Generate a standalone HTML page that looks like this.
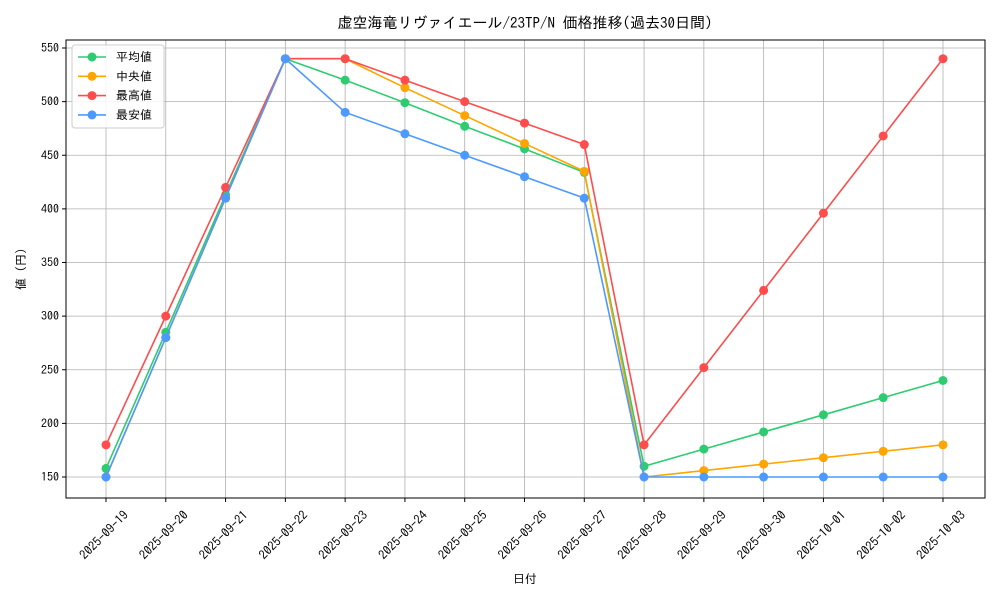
<!DOCTYPE html>
<html><head><meta charset="utf-8"><style>
body{margin:0;background:#fff;}
svg text{font-family:"IPAGothic","Liberation Sans","Noto Sans CJK JP",sans-serif;fill:#000;}
</style></head><body>
<svg id="chart" width="1000" height="600">
<text x="525" y="28" font-size="15" text-anchor="middle">虚空海竜リヴァイエール/23TP/N 価格推移(過去30日間)</text>
<g id="grid"></g><g id="axes"></g><g id="series"></g><g id="legend"></g>
<text x="525" y="583" font-size="12" text-anchor="middle">日付</text>
<text x="25" y="269" font-size="12" text-anchor="middle" transform="rotate(-90 25 269)">値 (円)</text>
</svg>
<script>
const dates=["2025-09-19","2025-09-20","2025-09-21","2025-09-22","2025-09-23","2025-09-24","2025-09-25","2025-09-26","2025-09-27","2025-09-28","2025-09-29","2025-09-30","2025-10-01","2025-10-02","2025-10-03"];
const avgVals=[158,285,413,540,520,499,477,456,434,160,176,192,208,224,240];
const medVals=[150,280,410,540,540,513,487,461,435,150,156,162,168,174,180];
const maxVals=[180,300,420,540,540,520,500,480,460,180,252,324,396,468,540];
const minVals=[150,280,410,540,490,470,450,430,410,150,150,150,150,150,150];
const yTicks=[150,200,250,300,350,400,450,500,550];
const seriesNames=["平均値","中央値","最高値","最安値"];
const NS="http://www.w3.org/2000/svg";
const L=66,R=985,T=40,B=498;
const xS=i=>106+i*(943-106)/(dates.length-1);
const yS=v=>477-(v-150)*(477-48)/400;
function mk(tag,attrs,parent){const e=document.createElementNS(NS,tag);for(const k in attrs)e.setAttribute(k,attrs[k]);parent.appendChild(e);return e;}
const grid=document.getElementById('grid'),axes=document.getElementById('axes'),ser=document.getElementById('series'),leg=document.getElementById('legend');
dates.forEach((d,i)=>{
 const x=xS(i);
 const g=mk('line',{x1:x,x2:x,y1:T,y2:B,stroke:'#b0b0b0','stroke-width':0.8},grid);
 
 
 mk('line',{x1:x,x2:x,y1:B,y2:B+4,stroke:'#000'},axes);
 const cx=x+1,cy=B+40;
 const t=mk('text',{x:cx,y:cy,'font-size':12.5,'text-anchor':'middle',transform:`rotate(-45 ${cx} ${cy})`},axes);
 t.textContent=d;
 
 
});
yTicks.forEach(v=>{
 const y=yS(v);
 const g=mk('line',{x1:L,x2:R,y1:y,y2:y,stroke:'#b0b0b0','stroke-width':0.8},grid);
 
 
 mk('line',{x1:L-4,x2:L,y1:y,y2:y,stroke:'#000'},axes);
 const t=mk('text',{x:L-7,y:y+4,'font-size':12,'text-anchor':'end'},axes);
 t.textContent=v;
 
 
});
const frame=mk('rect',{x:L,y:T,width:R-L,height:B-T,fill:'none',stroke:'#000','stroke-width':1},axes);


const all=[avgVals,medVals,maxVals,minVals];
const colors=["#2ecc71","#ffa500","#ff4c4c","#4c9aff"];
const ids=["avg","median","max","min"];
all.forEach((vals,s)=>{
 const g=mk('g',{},ser);
 
 
 const p=mk('polyline',{points:vals.map((v,i)=>xS(i)+','+yS(v)).join(' '),fill:'none',stroke:colors[s],'stroke-width':1.6},g);
 
 
 vals.forEach((v,i)=>{
  const c=mk('circle',{cx:xS(i),cy:yS(v),r:4.5,fill:colors[s]},g);
  
  
 });
});
const box=mk('rect',{x:72,y:45,width:92,height:83,rx:3,fill:'#fff','fill-opacity':0.85,stroke:'#ccc'},leg);


seriesNames.forEach((n,s)=>{
 const y=57+s*19.3;
 const g=mk('g',{},leg);
 
 
 mk('line',{x1:78,x2:106,y1:y,y2:y,stroke:colors[s],'stroke-width':1.6},g);
 mk('circle',{cx:92,cy:y,r:4.5,fill:colors[s]},g);
 const t=mk('text',{x:116,y:y+4,'font-size':12},g);
 t.textContent=n;
});
</script>
</body></html>
